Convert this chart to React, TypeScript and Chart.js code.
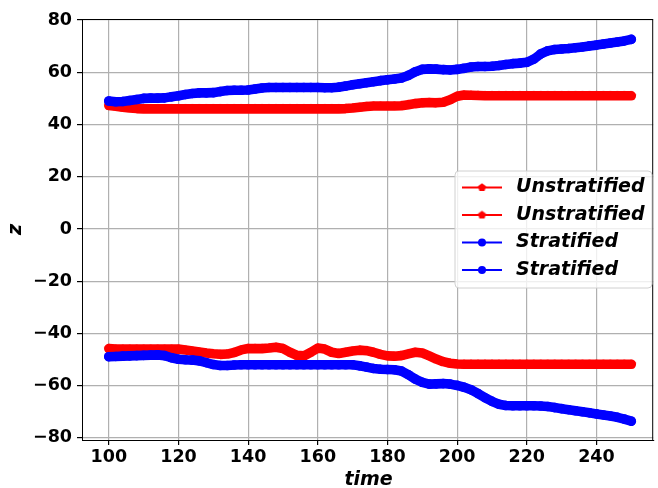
import React, { useEffect, useRef } from "react";
import { Chart, registerables } from "chart.js";

Chart.register(...registerables);

const times = [
  100, 102, 104, 106, 108, 110, 112, 114, 116, 118, 120, 122, 124, 126, 128, 130, 132, 134, 136, 138,
  140, 142, 144, 146, 148, 150, 152, 154, 156, 158, 160, 162, 164, 166, 168, 170, 172, 174, 176, 178,
  180, 182, 184, 186, 188, 190, 192, 194, 196, 198, 200, 202, 204, 206, 208, 210, 212, 214, 216, 218,
  220, 222, 224, 226, 228, 230, 232, 234, 236, 238, 240, 242, 244, 246, 248, 250,
];

const unstratUpper = [
  47.3, 47.0, 46.6, 46.3, 46.1, 46.0,
  46.0, 46.0, 46.0, 46.0, 46.0, 46.0, 46.0, 46.0, 46.0, 46.0,
  46.0, 46.0, 46.0, 46.0, 46.0, 46.0, 46.0, 46.0, 46.0, 46.0,
  46.0, 46.0, 46.0, 46.0, 46.0, 46.0, 46.0, 46.0,
  46.1, 46.3, 46.6, 46.9, 47.1, 47.1, 47.1, 47.1, 47.2, 47.6,
  48.0, 48.3, 48.4, 48.3, 48.5, 49.5, 50.8, 51.3, 51.2, 51.1,
  51.0, 51.0, 51.0, 51.0, 51.0, 51.0, 51.0, 51.0, 51.0, 51.0, 51.0,
  51.0, 51.0, 51.0, 51.0, 51.0, 51.0, 51.0, 51.0, 51.0, 51.0, 51.0,
];

const unstratLower = [
  -45.8,
  -46.0, -46.0, -46.0, -46.0, -46.0, -46.0, -46.0, -46.0, -46.0, -46.0,
  -46.3, -46.7, -47.1, -47.5, -47.8, -48.0, -47.9, -47.3, -46.3, -45.8,
  -45.8, -45.8, -45.6, -45.3, -45.8, -47.2, -48.4, -48.6, -47.2, -45.6,
  -46.0, -47.2, -47.7, -47.2, -46.7, -46.4, -46.6, -47.2, -48.0, -48.6,
  -48.7, -48.5, -47.8, -47.2, -47.5, -48.6, -49.8, -50.8, -51.4, -51.7,
  -51.8, -51.8, -51.8, -51.8, -51.8, -51.8, -51.8, -51.8, -51.8, -51.8,
  -51.8, -51.8, -51.8, -51.8, -51.8, -51.8, -51.8, -51.8, -51.8, -51.8,
  -51.8, -51.8, -51.8, -51.8, -51.8,
];

const stratUpper = [
  49.0, 48.7, 48.8, 49.2, 49.6, 50.0, 50.1, 50.1, 50.2, 50.6,
  51.0, 51.5, 51.9, 52.1, 52.1, 52.2, 52.6, 53.0, 53.1, 53.1,
  53.2, 53.6, 54.0, 54.2, 54.2, 54.2, 54.2, 54.2, 54.2, 54.2,
  54.2, 54.1, 54.1, 54.3, 54.7, 55.2, 55.6, 56.0, 56.4, 56.8,
  57.1, 57.4, 57.8, 58.8, 60.2, 61.1, 61.3, 61.2, 61.0, 60.9,
  61.1, 61.5, 62.0, 62.2, 62.2, 62.3, 62.6, 63.0, 63.3, 63.5,
  63.8, 65.0, 67.0, 68.2, 68.7, 68.9, 69.1, 69.4, 69.7, 70.1,
  70.4, 70.8, 71.2, 71.6, 72.0, 72.6,
];

const stratLower = [
  -48.9, -48.8, -48.7, -48.6, -48.5, -48.4, -48.3, -48.2, -48.5, -49.3,
  -49.9, -50.1, -50.2, -50.5, -51.2, -51.9, -52.3, -52.3, -52.1,
  -52.0, -52.0, -52.0, -52.0, -52.0, -52.0, -52.0, -52.0, -52.0,
  -52.0, -52.0, -52.0, -52.0, -52.0, -52.0, -52.0, -52.0,
  -52.4, -52.9, -53.4, -53.7, -53.8, -53.9, -54.4, -55.8, -57.5, -58.7,
  -59.4, -59.3, -59.2, -59.4, -59.9, -60.6, -61.6, -63.0, -64.6, -66.0,
  -67.1, -67.6, -67.7, -67.7, -67.7, -67.7, -67.8, -68.0, -68.4, -68.8,
  -69.2, -69.6, -70.0, -70.4, -70.8, -71.2, -71.6, -72.1, -72.8, -73.6,
];

const xTicks = [100, 120, 140, 160, 180, 200, 220, 240];
const yTicks = [-80, -60, -40, -20, 0, 20, 40, 60, 80];

const legendLabels = ["Unstratified", "Unstratified", "Stratified", "Stratified"];
const RED = "#ff0000";
const BLUE = "#0000ff";

const FONT = "'DejaVu Sans', sans-serif";

function makePentagon(r: number, color: string): HTMLCanvasElement {
  const c = document.createElement("canvas");
  const s = Math.ceil(2 * r + 2);
  c.width = s;
  c.height = s;
  const ctx = c.getContext("2d")!;
  ctx.fillStyle = color;
  ctx.beginPath();
  for (let k = 0; k < 5; k++) {
    const a = -Math.PI / 2 + (k * 2 * Math.PI) / 5;
    const x = s / 2 + r * Math.cos(a);
    const y = s / 2 + r * Math.sin(a);
    if (k === 0) ctx.moveTo(x, y);
    else ctx.lineTo(x, y);
  }
  ctx.closePath();
  ctx.fill();
  return c;
}

function fmt(v: number): string {
  return v < 0 ? "\u2212" + Math.abs(v) : String(v);
}

export default function App() {
  const ref = useRef<HTMLCanvasElement | null>(null);

  useEffect(() => {
    if (!ref.current) return;
    const pentPlot = makePentagon(4.8, RED);
    const pentLegend = makePentagon(4.3, RED);

    const mk = (vals: number[]) => times.map((t, i) => ({ x: t, y: vals[i] }));

    const decorPlugin = {
      id: "decor",
      afterDraw(chart: any) {
        const { ctx, chartArea } = chart;
        ctx.save();
        ctx.strokeStyle = "#000";
        ctx.lineWidth = 1;
        ctx.strokeRect(chartArea.left + 0.5, chartArea.top + 0.5, chartArea.right - chartArea.left - 1, chartArea.bottom - chartArea.top);
        ctx.fillStyle = "#000";
        ctx.font = `italic bold 19px ${FONT}`;
        ctx.textAlign = "center";
        ctx.textBaseline = "middle";
        ctx.fillText("time", (chartArea.left + chartArea.right) / 2 + 1, 480);
        ctx.save();
        ctx.translate(16, (chartArea.top + chartArea.bottom) / 2);
        ctx.rotate(-Math.PI / 2);
        ctx.fillText("z", 0, 0);
        ctx.restore();

        const bx = 455, by = 171, bw = 197, bh = 117, rr = 4;
        ctx.beginPath();
        ctx.moveTo(bx + rr, by);
        ctx.lineTo(bx + bw - rr, by);
        ctx.quadraticCurveTo(bx + bw, by, bx + bw, by + rr);
        ctx.lineTo(bx + bw, by + bh - rr);
        ctx.quadraticCurveTo(bx + bw, by + bh, bx + bw - rr, by + bh);
        ctx.lineTo(bx + rr, by + bh);
        ctx.quadraticCurveTo(bx, by + bh, bx, by + bh - rr);
        ctx.lineTo(bx, by + rr);
        ctx.quadraticCurveTo(bx, by, bx + rr, by);
        ctx.closePath();
        ctx.fillStyle = "rgba(255,255,255,0.8)";
        ctx.fill();
        ctx.strokeStyle = "#d0d0d0";
        ctx.lineWidth = 1;
        ctx.stroke();

        const rows = [187.5, 215, 242.5, 270];
        legendLabels.forEach((lab, i) => {
          const y = rows[i];
          const col = i < 2 ? RED : BLUE;
          ctx.strokeStyle = col;
          ctx.lineWidth = 1.8;
          ctx.beginPath();
          ctx.moveTo(462, y);
          ctx.lineTo(502, y);
          ctx.stroke();
          if (i < 2) {
            ctx.drawImage(pentLegend, 482 - pentLegend.width / 2, y - pentLegend.height / 2);
          } else {
            ctx.fillStyle = col;
            ctx.beginPath();
            ctx.arc(482, y, 4, 0, Math.PI * 2);
            ctx.fill();
          }
          ctx.fillStyle = "#000";
          ctx.font = `italic bold 19px ${FONT}`;
          ctx.textAlign = "left";
          ctx.textBaseline = "middle";
          ctx.fillText(lab, 516, y);
        });
        ctx.restore();
      },
    };

    const lineDs = (label: string, vals: number[], color: string, marker: any, order: number) => ({
      label,
      data: mk(vals),
      borderColor: color,
      backgroundColor: color,
      borderWidth: 9.6,
      borderCapStyle: "round",
      borderJoinStyle: "round",
      pointStyle: marker,
      pointRadius: 4.8,
      pointBorderWidth: 0,
      pointBackgroundColor: color,
      pointBorderColor: color,
      tension: 0,
      order,
    });

    const chart = new Chart(ref.current, {
      type: "line",
      data: {
        datasets: [
          lineDs("Unstratified", unstratUpper, RED, pentPlot, 3),
          lineDs("Unstratified", unstratLower, RED, pentPlot, 2),
          lineDs("Stratified", stratUpper, BLUE, "circle", 1),
          lineDs("Stratified", stratLower, BLUE, "circle", 0),
        ] as any,
      },
      options: {
        responsive: false,
        animation: false,
        devicePixelRatio: 1,
        layout: { padding: { top: 19, right: 1, left: 0, bottom: 0 } },
        plugins: {
          legend: { display: false },
          tooltip: { enabled: false },
        },
        scales: {
          x: {
            type: "linear",
            min: 92.3,
            max: 256.3,
            afterBuildTicks: (s: any) => {
              s.ticks = xTicks.map((v) => ({ value: v }));
            },
            afterFit: (s: any) => {
              s.height = 48;
            },
            ticks: {
              color: "#000",
              font: { family: FONT, size: 17.5, weight: "bold" },
              padding: 2,
              maxRotation: 0,
              autoSkip: false,
              callback: (v: any) => fmt(Number(v)),
            },
            grid: {
              color: "#b0b0b0",
              lineWidth: 1.2,
              drawTicks: true,
              tickLength: 5,
              tickColor: "#000",
            },
            border: { display: true, color: "#000", width: 1 },
          },
          y: {
            type: "linear",
            min: -80.8,
            max: 80.4,
            afterBuildTicks: (s: any) => {
              s.ticks = yTicks.map((v) => ({ value: v }));
            },
            afterFit: (s: any) => {
              s.width = 82;
            },
            ticks: {
              color: "#000",
              font: { family: FONT, size: 17.5, weight: "bold" },
              padding: 5,
              autoSkip: false,
              callback: (v: any) => fmt(Number(v)),
            },
            grid: {
              color: "#b0b0b0",
              lineWidth: 1.2,
              drawTicks: true,
              tickLength: 5,
              tickColor: "#000",
            },
            border: { display: true, color: "#000", width: 1 },
          },
        },
      } as any,
      plugins: [decorPlugin],
    });

    return () => chart.destroy();
  }, []);

  return (
    <div style={{ position: "fixed", left: 0, top: 0, width: 658, height: 488, background: "#fff" }}>
      <canvas ref={ref} width={658} height={488} style={{ width: 658, height: 488, display: "block" }} />
    </div>
  );
}
